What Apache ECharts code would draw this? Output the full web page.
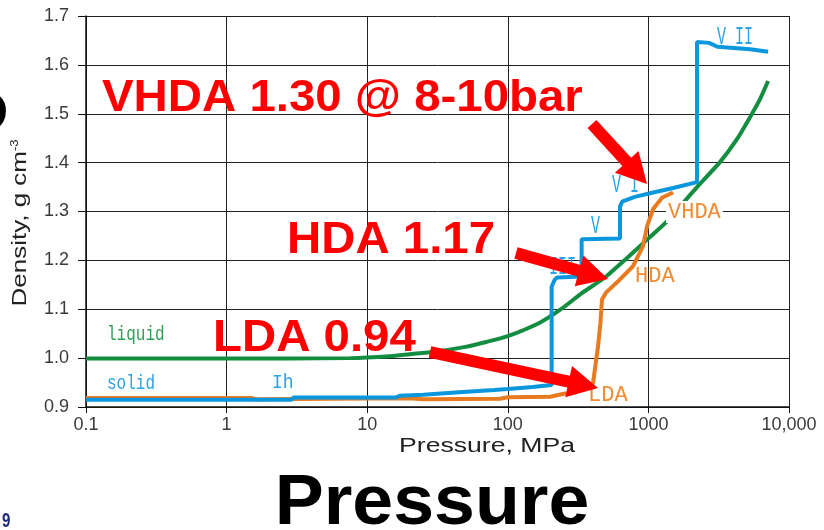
<!DOCTYPE html>
<html><head><meta charset="utf-8">
<script src="https://cdn.jsdelivr.net/npm/echarts@6/dist/echarts.min.js"></script>
<style>html,body{margin:0;padding:0;background:#fff}#c{width:824px;height:530px}</style>
</head><body><div id="c"></div>
<script>
// ---- tick labels ----
const xTickLabels = ['0.1', '1', '10', '100', '1000', '10,000'];
const yTickLabels = ['0.9', '1.0', '1.1', '1.2', '1.3', '1.4', '1.5', '1.6', '1.7'];

// ---- liquid water (green) ----
const liquidPressure = [0.1, 0.26, 1, 7.6, 14.6, 20, 30, 50, 70, 100, 170, 236, 340, 490, 705, 1000, 1356, 1912, 2217, 3228, 4266, 5282, 6222, 7100];
const liquidDensity  = [0.999, 0.999, 0.999, 1.0, 1.004, 1.008, 1.013, 1.023, 1.033, 1.045, 1.073, 1.099, 1.134, 1.165, 1.205, 1.245, 1.28, 1.329, 1.35, 1.401, 1.448, 1.493, 1.53, 1.567];

// ---- crystalline ice phases (blue) ----
const solidPressure = [0.1, 2.9, 3, 16, 17, 25, 45, 80, 100, 150, 205, 205, 215, 224, 335, 335, 628, 628, 650, 800, 1080, 1500, 2217, 2217, 2700, 3100, 5300, 7100];
const solidDensity  = [0.915, 0.915, 0.9195, 0.9195, 0.923, 0.925, 0.93, 0.935, 0.937, 0.941, 0.945, 1.146, 1.16, 1.165, 1.167, 1.243, 1.245, 1.31, 1.32, 1.33, 1.339, 1.348, 1.36, 1.647, 1.645, 1.637, 1.632, 1.627];

// ---- amorphous ice LDA -> HDA -> VHDA (orange) ----
const amorphPressure = [0.1, 1.5, 1.6, 20, 25, 88, 100, 200, 250, 300, 370, 404, 420, 438, 455, 468, 499, 628, 777, 915, 979, 1080, 1250, 1496];
const amorphDensity  = [0.9185, 0.9185, 0.916, 0.918, 0.916, 0.917, 0.92, 0.921, 0.927, 0.93, 0.94, 0.949, 0.985, 1.023, 1.07, 1.12, 1.134, 1.161, 1.188, 1.229, 1.27, 1.305, 1.328, 1.339];

const zip = (a, b) => a.map((v, i) => [v, b[i]]);

const chart = echarts.init(document.getElementById('c'), null, {renderer: 'canvas'});

const SANS = '"Liberation Sans", Arial, sans-serif';
const MONO = '"Liberation Mono", "Courier New", monospace';

function txt(text, x, y, font, fill, opts) {
  opts = opts || {};
  return Object.assign({
    type: 'text', x: x, y: y, z: opts.z || 50, silent: true,
    scaleX: opts.sx || 1, scaleY: opts.sy || 1, rotation: opts.rot || 0,
    style: Object.assign({
      text: text, x: 0, y: 0, font: font, fill: fill,
      textAlign: opts.align || 'left', align: opts.align || 'left',
      textVerticalAlign: 'middle', verticalAlign: 'middle'
    }, opts.style || {})
  }, opts.extra || {});
}

function arrow(x1, y1, x2, y2, sw, hl, hw) {
  const dx = x2 - x1, dy = y2 - y1, L = Math.hypot(dx, dy);
  const ux = dx / L, uy = dy / L, nx = -uy, ny = ux;
  const bx = x2 - ux * hl, by = y2 - uy * hl;
  return {
    type: 'polygon', z: 120, silent: true,
    shape: { points: [
      [x1 + nx * sw / 2, y1 + ny * sw / 2],
      [bx + nx * sw / 2, by + ny * sw / 2],
      [bx + nx * hw / 2, by + ny * hw / 2],
      [x2, y2],
      [bx - nx * hw / 2, by - ny * hw / 2],
      [bx - nx * sw / 2, by - ny * sw / 2],
      [x1 - nx * sw / 2, y1 - ny * sw / 2]
    ]},
    style: { fill: '#ff0000' }
  };
}

const BLUE_T = '#2aa2e6', GREEN_T = '#2f9f55', ORANGE_T = '#ef8c34';

const graphics = [
  // large partially hidden letter at left edge
  txt('P', 9, 129, 'bold 90px ' + SANS, '#000', { align: 'right', z: 10 }),
  // axis titles
  {
    type: 'text', x: 20, y: 223, rotation: Math.PI / 2, scaleX: 1.3, z: 50, silent: true,
    style: {
      text: '{a|Density, g cm}{b|-3}', x: 0, y: 0,
      textAlign: 'center', align: 'center', textVerticalAlign: 'middle', verticalAlign: 'middle',
      rich: {
        a: { font: '20px ' + SANS, fill: '#222' },
        b: { font: '10px ' + SANS, fill: '#222', verticalAlign: 'top' }
      }
    }
  },
  txt('Pressure, MPa', 487, 446, '20px ' + SANS, '#222', { align: 'center', sx: 1.33 }),
  // slide title & number
  txt('Pressure', 432, 505, 'bold 70px ' + SANS, '#000', { align: 'center', sx: 1.05 }),
  txt('9', 2, 521, 'bold 21px ' + SANS, '#1f2a7a', { sx: 0.72 }),
  // phase labels
  txt('liquid', 107, 334, '16px ' + MONO, GREEN_T, { sy: 1.3 }),
  txt('solid', 107, 383, '16px ' + MONO, BLUE_T, { sy: 1.3 }),
  txt('Ih', 272, 383, '18px ' + MONO, BLUE_T, { sy: 1.1 }),
  txt('V II', 717, 37, '15px ' + MONO, BLUE_T, { sy: 1.7 }),
  txt('V I', 612, 185, '15px ' + MONO, BLUE_T, { sy: 1.7 }),
  txt('V', 591, 226, '15px ' + MONO, BLUE_T, { sy: 1.7 }),
  txt('III', 549, 267, '15px ' + MONO, BLUE_T, { sy: 1.7 }),
  txt('VHDA', 666, 212, '22px ' + MONO, ORANGE_T, { style: { backgroundColor: '#fff', padding: [0, 2] } }),
  txt('HDA', 635, 276, '22px ' + MONO, ORANGE_T),
  txt('LDA', 588, 395, '22px ' + MONO, ORANGE_T),
  // red annotations
  txt('VHDA 1.30 @ 8-10bar', 102, 99, 'bold 44px ' + SANS, '#ff0000', { sx: 1.077, z: 110 }),
  txt('HDA 1.17', 287, 241, 'bold 44px ' + SANS, '#ff0000', { sx: 1.077, z: 110 }),
  txt('LDA 0.94', 213, 339, 'bold 44px ' + SANS, '#ff0000', { sx: 1.077, z: 110 }),
  arrow(592, 124, 647, 184, 12, 30, 32),
  arrow(516, 253, 608, 279, 12, 30, 32),
  arrow(430, 352, 598, 388, 12, 30, 32)
];

const option = {
  animation: false,
  backgroundColor: '#fff',
  grid: { left: 86, right: 35, top: 16, bottom: 123, containLabel: false },
  xAxis: {
    type: 'log', logBase: 10, min: 0.1, max: 10000,
    axisLine: { show: true, lineStyle: { color: '#111', width: 1.5 } },
    axisTick: { show: true, length: 6, lineStyle: { color: '#111' } },
    minorTick: { show: false },
    splitLine: { show: true, lineStyle: { color: '#222', width: 1 } },
    axisLabel: {
      margin: 9, color: '#3a3a3a', fontFamily: SANS, fontSize: 18,
      formatter: v => xTickLabels[Math.round(Math.log10(v)) + 1]
    }
  },
  yAxis: {
    type: 'value', min: 0.9, max: 1.7, interval: 0.1,
    axisLine: { show: true, lineStyle: { color: '#111', width: 1.5 } },
    axisTick: { show: true, length: 8, lineStyle: { color: '#111' } },
    splitLine: { show: true, lineStyle: { color: '#222', width: 1 } },
    axisLabel: {
      margin: 17, color: '#3a3a3a', fontFamily: SANS, fontSize: 18,
      formatter: v => yTickLabels[Math.round((v - 0.9) / 0.1)]
    }
  },
  series: [
    { name: 'liquid', type: 'line', data: zip(liquidPressure, liquidDensity), symbol: 'none', smooth: 0.2,
      lineStyle: { color: '#138d3f', width: 4 }, z: 2, silent: true },
    { name: 'amorphous', type: 'line', data: zip(amorphPressure, amorphDensity), symbol: 'none',
      lineStyle: { color: '#e87a1f', width: 4 }, z: 3, silent: true },
    { name: 'solid', type: 'line', data: zip(solidPressure, solidDensity), symbol: 'none',
      lineStyle: { color: '#0a97dd', width: 4 }, z: 4, silent: true }
  ],
  graphic: { elements: graphics }
};
chart.setOption(option);
</script></body></html>
